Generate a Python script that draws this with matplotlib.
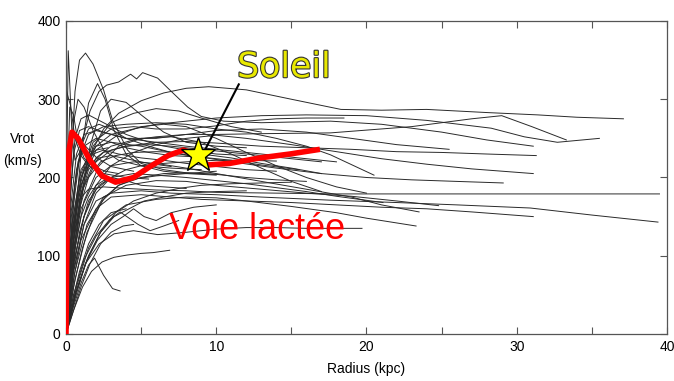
import matplotlib
matplotlib.use('Agg')
import matplotlib.pyplot as plt
import matplotlib.patheffects as pe
from matplotlib.ticker import MultipleLocator

# Galaxy rotation curves (radius in kpc, Vrot in km/s)
radius_curves = [
    [0, 0.3, 0.8, 1.5, 2.5, 3.5, 5, 6.5, 8, 9.5, 12, 15, 18.3, 21, 24, 28, 31.4, 34, 37.1],
    [0, 0.4, 1.0, 1.6, 2.2, 2.7, 3.5, 4.3, 4.7, 5.1, 6.1, 6.9, 8.1, 9, 10.5, 13, 17.6, 21, 25, 28, 31.1],
    [0, 0.5, 1.2, 2, 3, 4.5, 6, 8, 10, 13, 17.6, 23, 27, 29, 31, 33.3],
    [0, 0.4, 1, 2, 3, 4.5, 6, 8, 10, 13, 16, 20, 24, 28.3, 30.5, 32.7, 35.5],
    [0, 0.3, 0.8, 1.5, 2.5, 4, 6, 8, 10, 13, 16, 19, 22, 25, 28, 31.3],
    [0, 0.5, 1.2, 2, 3, 4.5, 6, 8, 10, 12, 15, 18, 21, 24, 27, 31.1],
    [0, 0.4, 1, 2, 3, 5, 7, 9, 11, 14, 17, 20, 23, 26, 29.1],
    [0, 0.3, 0.8, 1.5, 2.5, 4, 6, 8, 10, 14, 18, 24, 30, 35, 39.5],
    [0, 0.5, 1.2, 2, 3, 5, 7, 10, 13, 17.6, 22, 26, 30.9, 35, 39.4],
    [0, 0.5, 1, 2, 3, 5, 7, 9, 12, 15, 18, 21, 24, 27, 31.1],
    [0, 0.3, 0.7, 1.2, 2, 3, 4, 6, 8, 10, 13, 16, 19, 22, 25.5],
    [0, 0.6, 1.4, 2.5, 4, 6, 8, 10, 13, 16, 19, 22, 24.8],
    [0, 0.4, 1, 2, 3, 4.5, 6, 8, 10, 13, 16, 19, 21, 23.5],
    [0, 0.7, 1.5, 2.5, 4, 6, 8, 10, 12, 15, 18, 20, 23.3],
    [0, 0.3, 0.8, 1.5, 2.5, 4, 6, 8, 10, 12, 14, 16, 17.6, 20.5],
    [0, 0.5, 1.2, 2, 3, 4.5, 6, 8, 10, 12, 14, 16, 18, 21.1],
    [0, 0.6, 1.3, 2.2, 3.2, 4.5, 6.1, 8, 10, 12, 14, 16, 18, 19.7],
    [0, 0.4, 1, 2, 3, 4, 5.5, 7, 9, 11, 13, 15, 17],
    [0, 0.5, 1.2, 2, 3, 4, 5, 6.5, 8, 10, 12, 14],
    [0, 0.3, 0.7, 1.2, 2, 3, 4, 5.5, 7, 9, 11, 13, 15.5],
    [0, 0.6, 1.4, 2.4, 3.5, 5, 6.5, 8, 10, 12, 14, 16],
    [0, 0.4, 1, 2, 3.5, 5, 6.5, 8, 10, 12, 14, 16, 18, 20],
    [0, 0.5, 1.2, 2.2, 3.5, 5, 7, 9, 11, 13, 15, 17],
    [0, 0.3, 0.6, 1, 1.5, 2.5, 4, 6, 8, 10, 12],
    [0, 0.2, 0.5, 0.8, 1.2, 1.8, 2.5, 3.5, 5, 7, 9],
    [0, 0.3, 0.6, 0.9, 1.3, 1.8, 2.5, 3.1, 4.1, 5, 6.5, 8, 10],
    [0, 0.08, 0.15, 0.25, 0.4, 0.6, 0.9, 1.3, 2, 3, 4.5],
    [0, 0.04, 0.3, 0.6, 1, 1.5, 2.5, 4, 5.5],
    [0, 0.5, 1, 1.5, 2.1, 2.6, 3.2, 4, 5, 6.5, 8, 10],
    [0, 0.5, 1, 1.6, 2.3, 3, 4, 5, 6.5, 8, 10, 12],
    [0, 0.5, 1, 1.8, 3, 4.5, 6, 7.5, 9, 11, 13],
    [0, 0.4, 0.9, 1.5, 2.2, 3, 4, 5.5, 7],
    [0, 0.3, 0.6, 1, 1.5, 2, 2.5, 3],
    [0, 0.4, 0.9, 1.5, 2.2, 3, 4],
    [0, 0.2, 0.5, 0.9, 1.4, 2, 2.8],
    [0, 0.5, 1, 1.6, 2.3, 3, 3.8, 4.5],
    [0, 0.5, 1, 1.5, 1.9, 2.5, 3.1, 3.6],
    [0, 0.5, 1.1, 1.7, 2.4, 3.2, 4.1, 5, 5.8, 6.9],
    [0, 0.5, 1.2, 2, 2.9, 3.6, 4.2, 4.8, 5.6, 6.5, 7.5],
    [0, 0.6, 1.3, 2.1, 3, 3.8, 4.5, 5.2, 6, 7, 8.5, 10],
    [0, 0.7, 1.5, 2.3, 3.2, 4.2, 5.2, 6.5, 8, 10, 12],
    [0, 0.4, 0.9, 1.5, 2.2, 3, 4, 5, 6.5, 8],
    [0, 0.3, 0.7, 1.2, 1.8, 2.5, 3.5, 5, 6.5, 8, 10, 12, 14],
    [0, 0.2, 0.5, 0.9, 1.5, 2.5, 4, 6, 8, 10, 12, 14, 16, 18],
    [0, 0.5, 1.1, 1.8, 2.6, 3.5, 4.5, 6, 8, 10],
    [0, 0.4, 0.9, 1.5, 2.3, 3.3, 4.5, 6, 7.5, 9, 11, 13, 15, 17],
    [0, 0.3, 0.6, 1.0, 1.5, 2.2, 3, 4, 5.5, 7, 9],
    [0, 0.1, 0.25, 0.5, 0.8, 1.2, 1.8, 2.6, 3.5],
    [0, 0.6, 1.4, 2.3, 3.3, 4.5, 6, 7.5, 9, 11, 13, 15],
    [0, 0.4, 1, 1.8, 3, 4.5, 6, 8, 10, 12, 14, 16, 18.5],
]
vrot_curves = [
    [0, 90, 170, 225, 262, 282, 298, 308, 314, 316, 312, 300, 287, 286, 287, 283, 280, 277, 275],
    [0, 150, 240, 285, 310, 318, 322, 332, 326, 334, 327, 312, 290, 278, 272, 270, 272, 268, 258, 248, 240],
    [0, 120, 190, 225, 240, 248, 252, 255, 255, 256, 257, 265, 275, 279, 265, 248],
    [0, 130, 200, 240, 255, 262, 268, 272, 276, 279, 280, 279, 273, 263, 252, 245, 250],
    [0, 110, 180, 215, 232, 240, 245, 246, 244, 240, 238, 236, 233, 232, 230, 228],
    [0, 90, 150, 190, 215, 232, 242, 250, 254, 250, 242, 233, 224, 217, 211, 205],
    [0, 140, 210, 240, 245, 240, 232, 226, 220, 212, 205, 200, 197, 195, 193],
    [0, 120, 170, 185, 188, 186, 184, 183, 181, 180, 179, 179, 179, 179, 179],
    [0, 80, 140, 170, 180, 183, 180, 178, 175, 171, 168, 165, 161, 152, 143],
    [0, 70, 120, 160, 175, 178, 175, 172, 170, 168, 165, 162, 160, 156, 150],
    [0, 160, 230, 255, 260, 255, 250, 250, 255, 260, 262, 258, 250, 242, 236],
    [0, 80, 140, 175, 190, 196, 195, 190, 185, 180, 176, 170, 164],
    [0, 100, 160, 200, 215, 220, 218, 212, 205, 195, 185, 175, 165, 156],
    [0, 60, 110, 145, 165, 172, 175, 174, 170, 163, 155, 148, 138],
    [0, 150, 220, 255, 265, 268, 270, 268, 262, 258, 250, 240, 229, 203],
    [0, 90, 150, 185, 200, 205, 203, 200, 196, 192, 187, 182, 176, 168],
    [0, 50, 90, 115, 128, 132, 127, 130, 134, 136, 136, 135, 135, 135],
    [0, 110, 180, 220, 235, 240, 242, 240, 236, 232, 228, 224, 220],
    [0, 80, 140, 180, 200, 210, 215, 218, 220, 222, 222, 221],
    [0, 140, 210, 240, 250, 245, 238, 232, 228, 226, 222, 216, 210],
    [0, 70, 130, 170, 190, 200, 205, 206, 204, 200, 197, 195],
    [0, 120, 190, 235, 255, 265, 268, 265, 250, 232, 215, 200, 188, 180],
    [0, 100, 170, 215, 240, 250, 252, 245, 230, 212, 195, 182],
    [0, 180, 250, 275, 280, 270, 255, 242, 235, 230, 228],
    [0, 180, 270, 300, 290, 260, 235, 222, 215, 212, 210],
    [0, 200, 310, 350, 359, 345, 312, 273, 235, 218, 210, 206, 204],
    [0, 260, 362, 320, 255, 222, 232, 240, 226, 214, 208],
    [0, 310, 292, 250, 228, 215, 205, 200, 198],
    [0, 120, 230, 295, 320, 300, 260, 230, 215, 208, 205, 203],
    [0, 90, 170, 240, 285, 300, 296, 280, 258, 245, 240, 238],
    [0, 100, 180, 240, 270, 282, 288, 285, 276, 265, 258],
    [0, 100, 170, 210, 225, 228, 224, 218, 214],
    [0, 60, 110, 150, 175, 190, 196, 198],
    [0, 40, 80, 115, 140, 155, 160],
    [0, 80, 150, 200, 225, 235, 238],
    [0, 30, 60, 90, 115, 130, 138, 140],
    [0, 35, 65, 88, 97, 75, 58, 55],
    [0, 30, 60, 80, 92, 98, 101, 103, 104, 107],
    [0, 50, 95, 125, 146, 156, 148, 140, 132, 138, 145],
    [0, 45, 90, 120, 140, 150, 160, 150, 145, 155, 162, 165],
    [0, 55, 100, 130, 150, 160, 170, 175, 180, 182, 183],
    [0, 70, 130, 170, 190, 200, 196, 190, 188, 186],
    [0, 100, 170, 210, 230, 235, 230, 225, 222, 218, 214, 210, 208],
    [0, 150, 230, 260, 265, 258, 250, 245, 240, 236, 232, 228, 224, 220],
    [0, 60, 110, 150, 175, 190, 198, 202, 205, 208],
    [0, 90, 160, 200, 220, 228, 232, 233, 232, 230, 225, 218, 212, 205],
    [0, 110, 190, 240, 262, 268, 262, 250, 240, 232, 225],
    [0, 200, 290, 280, 245, 225, 215, 208, 205],
    [0, 50, 95, 130, 155, 170, 180, 186, 190, 192, 193, 194],
    [0, 120, 200, 245, 262, 265, 262, 262, 266, 272, 275, 276, 276],
]

# Milky Way curve
mw_radius = [0, 0.05, 0.1, 0.2, 0.4, 0.8, 1.6, 2.4, 3.3, 4.5, 5.6, 6.8, 7.8, 8.8, 9.4, 10.9, 12.9, 14.9, 16.9]
mw_vrot = [0, 100, 180, 235, 258, 250, 222, 202, 194, 200, 214, 228, 235, 229, 216, 218, 225, 230, 236]

sun_r, sun_v = 8.8, 229

plt.rcParams['font.family'] = ['Liberation Sans', 'DejaVu Sans']

fig = plt.figure(figsize=(6.74, 3.81), dpi=100)
ax = fig.add_axes([0.0979, 0.1234, 0.8917, 0.8215])

for r, v in zip(radius_curves, vrot_curves):
    ax.plot(r, v, color='#2a2a2a', lw=0.7)

ax.plot(mw_radius, mw_vrot, color='#ff0000', lw=4, solid_capstyle='butt', zorder=5)

# Sun marker and label
ax.plot([sun_r + 0.5, 11.5], [sun_v + 8, 319], color='black', lw=1.5, zorder=6)
ax.plot(sun_r, sun_v, marker='*', markersize=26, mfc='#ffff00', mec='black',
        mew=1, zorder=7)
ax.text(14.5, 341, 'Soleil', fontsize=25, color='#e8e800', ha='center', va='center',
        family=['DejaVu Sans'],
        path_effects=[pe.withStroke(linewidth=1.6, foreground='#333333')], zorder=8)
ax.text(12.7, 133, 'Voie lactée', fontsize=26, color='#ff0000', ha='center',
        va='center', zorder=8)

ax.set_xlim(0, 40)
ax.set_ylim(0, 400)
ax.xaxis.set_major_locator(MultipleLocator(10))
ax.xaxis.set_minor_locator(MultipleLocator(5))
ax.yaxis.set_major_locator(MultipleLocator(100))
ax.tick_params(which='both', direction='in', top=True, right=True, length=5,
               width=0.8, color='#555555', labelsize=10, pad=4)
for s in ax.spines.values():
    s.set_color('#555555')
    s.set_linewidth(0.9)

ax.set_xlabel('Radius (kpc)', fontsize=10, labelpad=6)
fig.text(23 / 674, 1 - 150 / 381, 'Vrot\n(km/s)', fontsize=10, ha='center',
         va='center', linespacing=1.7)

fig.savefig('out.png', dpi=100)
